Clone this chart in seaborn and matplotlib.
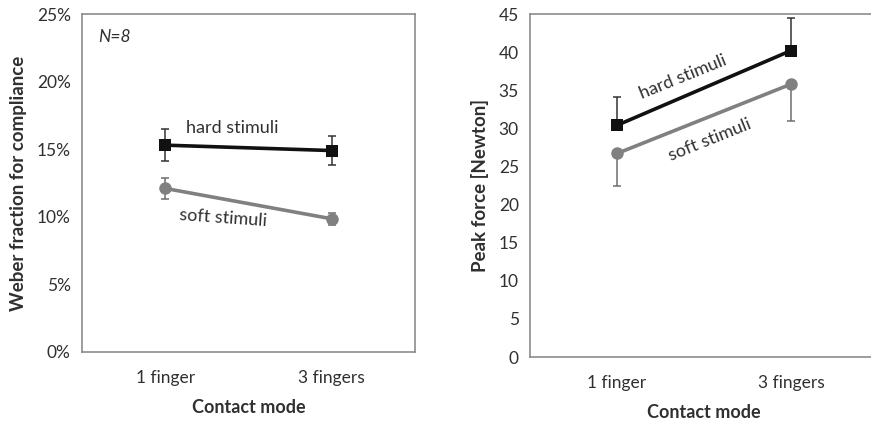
import numpy as np
import pandas as pd
import matplotlib
matplotlib.use("Agg")
import matplotlib.pyplot as plt
import seaborn as sns

# data
modes = ["1 finger", "3 fingers"]

weber_hard = [15.3, 14.9]
weber_hard_err = [1.2, 1.1]
weber_soft = [12.1, 9.85]
weber_soft_err = [0.75, 0.45]

force_hard = [30.4, 40.2]
force_hard_err = [3.7, 4.3]
force_soft = [26.7, 35.8]
force_soft_err = [4.3, 4.9]

sns.set_style("white")
plt.rcParams["font.family"] = ["Lato", "DejaVu Sans"]

SPINE = "#8c8c8c"
TXT = "#303030"
HARD = "#111111"
SOFT = "#808080"

fig = plt.figure(figsize=(8.71, 4.22), dpi=100)
ax1 = fig.add_axes([0.0941, 0.1659, 0.3824, 0.8009])
ax2 = fig.add_axes([0.6085, 0.1540, 0.3995, 0.8128])

pos = np.arange(len(modes)) + 0.5


def draw_panel(ax, hard, soft, hard_err_kw, soft_err_kw):
    df = pd.DataFrame({
        "pos": np.concatenate([pos, pos]),
        "value": hard + soft,
        "stimulus": ["hard"] * 2 + ["soft"] * 2,
    })
    # error bars first so the markers sit on top
    ax.errorbar(pos, hard, yerr=hard_err_kw, fmt="none", ecolor="#333333",
                elinewidth=1.1, capsize=3, capthick=1.1, zorder=2)
    ax.errorbar(pos, soft, yerr=soft_err_kw, fmt="none", ecolor="#6e6e6e",
                elinewidth=1.1, capsize=3, capthick=1.1, zorder=2)
    sns.lineplot(data=df, x="pos", y="value", hue="stimulus", style="stimulus",
                 palette={"hard": HARD, "soft": SOFT},
                 markers={"hard": "s", "soft": "o"}, dashes=False,
                 markersize=9, linewidth=2.6, markeredgewidth=0,
                 legend=False, ax=ax, zorder=3)

    ax.set_xlim(0, 2)
    ax.set_xticks([0, 1, 2])
    ax.set_xticklabels([])
    ax.set_xticks(pos, minor=True)
    ax.set_xticklabels(modes, minor=True)
    ax.tick_params(axis="x", which="major", direction="out", length=5,
                   color=SPINE, width=1)
    ax.tick_params(axis="x", which="minor", length=0, pad=13,
                   labelsize=12.5, labelcolor=TXT)
    ax.tick_params(axis="y", direction="out", length=5, color=SPINE,
                   width=1, labelsize=12.5, labelcolor=TXT, pad=3)
    for s in ax.spines.values():
        s.set_color(SPINE)
        s.set_linewidth(1.2)
    ax.set_xlabel("Contact mode", fontsize=13, fontweight="bold",
                  color=TXT, labelpad=9)


# left panel: Weber fraction
draw_panel(ax1, weber_hard, weber_soft, weber_hard_err, weber_soft_err)
ax1.set_ylim(0, 25)
ax1.set_yticks(np.arange(0, 26, 5))
ax1.set_yticklabels([f"{v}%" for v in range(0, 26, 5)])
ax1.set_ylabel("Weber fraction for compliance", fontsize=13.5,
               fontweight="bold", color=TXT, labelpad=7)
ax1.text(0.05, 0.955, "N=8", transform=ax1.transAxes, fontsize=12.5,
         style="italic", color=TXT, va="top")
ax1.text(0.90, 16.57, "hard stimuli", fontsize=13, color=TXT,
         ha="center", va="center")
ax1.text(0.847, 9.9, "soft stimuli", fontsize=13, color=TXT,
         ha="center", va="center", rotation=-4)

# right panel: peak force (one-sided error bars)
draw_panel(ax2, force_hard, force_soft,
           [[0, 0], force_hard_err], [force_soft_err, [0, 0]])
ax2.set_ylim(0, 45)
ax2.set_yticks(np.arange(0, 46, 5))
ax2.set_ylabel("Peak force [Newton]", fontsize=13.5, fontweight="bold",
               color=TXT, labelpad=7)
ax2.text(0.879, 36.7, "hard stimuli", fontsize=13, color=TXT,
         ha="center", va="center", rotation=22)
ax2.text(1.034, 28.5, "soft stimuli", fontsize=13, color=TXT,
         ha="center", va="center", rotation=22)

fig.savefig("out.png", dpi=100)
